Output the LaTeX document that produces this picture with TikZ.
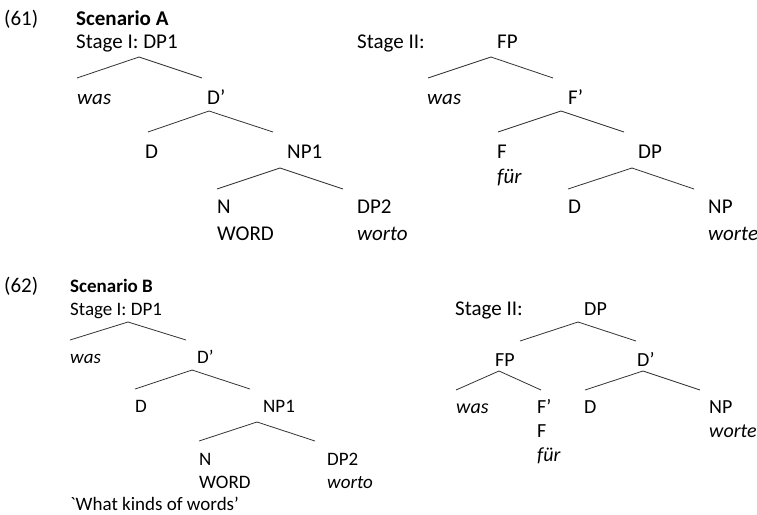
\documentclass[tikz,border=0pt]{standalone}
\usepackage{fontspec}
\setmainfont{Carlito}
\newfontfamily\rawfont{Carlito}
\newcommand\bigfs{\fontsize{21}{25}\selectfont}
\newcommand\midfs{\fontsize{20}{24}\selectfont}
\newcommand\smallfs{\fontsize{19}{23}\selectfont}
\begin{document}
\begin{tikzpicture}[x=1pt,y=-1pt,
  ta/.style={anchor=base west, inner sep=0pt, font=\bigfs},
  tb/.style={anchor=base west, inner sep=0pt, font=\smallfs},
  tc/.style={anchor=base west, inner sep=0pt, font=\midfs},
  br/.style={line width=0.8pt, draw=black!80}]
\useasboundingbox (0,0) rectangle (757,514);
% ---------- (61) Scenario A ----------
\node[ta] (n61) at (4,25) {(61)};
\node[ta, font=\bigfs\bfseries] (scA) at (76,25) {Scenario A};
\node[ta] (aSI) at (76,48) {Stage I: DP1};
\node[ta] (aWas) at (77,104) {\itshape was};
\node[ta] (aDb) at (207,104) {D’};
\node[ta] (aD) at (145,158) {D};
\node[ta] (aNP1) at (287,158) {NP1};
\node[ta] (aN) at (217,213) {N};
\node[ta] (aWORD) at (217,240) {WORD};
\node[ta] (aDP2) at (357,213) {DP2};
\node[ta] (aWorto) at (357,240) {\itshape worto};
\node[ta] (aSII) at (357,48) {Stage II:};
\node[ta] (aFP) at (497,48) {FP};
\node[ta] (aWas2) at (427,104) {\itshape was};
\node[ta] (aFb) at (568,104) {F’};
\node[ta] (aF) at (497,158) {F};
\node[ta] (aFur) at (497,183) {\itshape für};
\node[ta] (aDP) at (638,158) {DP};
\node[ta] (aD2) at (568,213) {D};
\node[ta] (aNP) at (708,213) {NP};
\node[ta] (aWorte) at (708,240) {\itshape worte};
% branch points A
\coordinate (a1t) at (139,57);  \coordinate (a1l) at (77,78);  \coordinate (a1r) at (202,78);
\coordinate (a2t) at (209,111); \coordinate (a2l) at (148,132); \coordinate (a2r) at (273,132);
\coordinate (a3t) at (280,168); \coordinate (a3l) at (217,189); \coordinate (a3r) at (343,189);
\coordinate (a4t) at (491,57);  \coordinate (a4l) at (428,78);  \coordinate (a4r) at (553,78);
\coordinate (a5t) at (561,111); \coordinate (a5l) at (498,132); \coordinate (a5r) at (624,132);
\coordinate (a6t) at (632,168); \coordinate (a6l) at (568,189); \coordinate (a6r) at (694,189);
\foreach \i in {1,...,6}{\draw[br] (a\i l) -- (a\i t) -- (a\i r);}
% ---------- (62) Scenario B ----------
\node[ta] (n62) at (4,292) {(62)};
\node[tb, font=\smallfs\bfseries] (scB) at (70,292) {Scenario B};
\node[tb] (bSI) at (70,315) {Stage I: DP1};
\node[tb] (bWas) at (70,363) {\itshape was};
\node[tb] (bDb) at (197,363) {D’};
\node[tb] (bD) at (135,412) {D};
\node[tb] (bNP1) at (263,412) {NP1};
\node[tb] (bN) at (199,465) {N};
\node[tb] (bWORD) at (199,488) {WORD};
\node[tb] (bDP2) at (327,465) {DP2};
\node[tb] (bWorto) at (327,488) {\itshape worto};
\node[tb] (bGloss) at (70,510) {{\rawfont\symbol{96}}What kinds of words’};
\node[ta] (bSII) at (455,315) {Stage II:};
\node[tc] (bDP) at (584,315) {DP};
\node[tc] (bFP) at (495,366) {FP};
\node[tc] (bDb2) at (637,366) {D’};
\node[tc] (bWas2) at (456,413) {\itshape was};
\node[tc] (bFb) at (537,413) {F’};
\node[tc] (bF) at (537,437) {F};
\node[tc] (bFur) at (537,461) {\itshape für};
\node[tc] (bD2) at (584,413) {D};
\node[tc] (bNP) at (709,413) {NP};
\node[tc] (bWorte) at (709,437) {\itshape worte};
% branch points B
\coordinate (b1t) at (128,322); \coordinate (b1l) at (70,340);  \coordinate (b1r) at (186,340);
\coordinate (b2t) at (192,370); \coordinate (b2l) at (135,389); \coordinate (b2r) at (250,389);
\coordinate (b3t) at (257,422); \coordinate (b3l) at (199,441); \coordinate (b3r) at (315,441);
\coordinate (b4t) at (578,322); \coordinate (b4l) at (520,341); \coordinate (b4r) at (636,341);
\coordinate (b5t) at (499,371); \coordinate (b5l) at (456,390); \coordinate (b5r) at (541,390);
\coordinate (b6t) at (643,371); \coordinate (b6l) at (585,390); \coordinate (b6r) at (700,390);
\foreach \i in {1,...,6}{\draw[br] (b\i l) -- (b\i t) -- (b\i r);}
\end{tikzpicture}
\end{document}
